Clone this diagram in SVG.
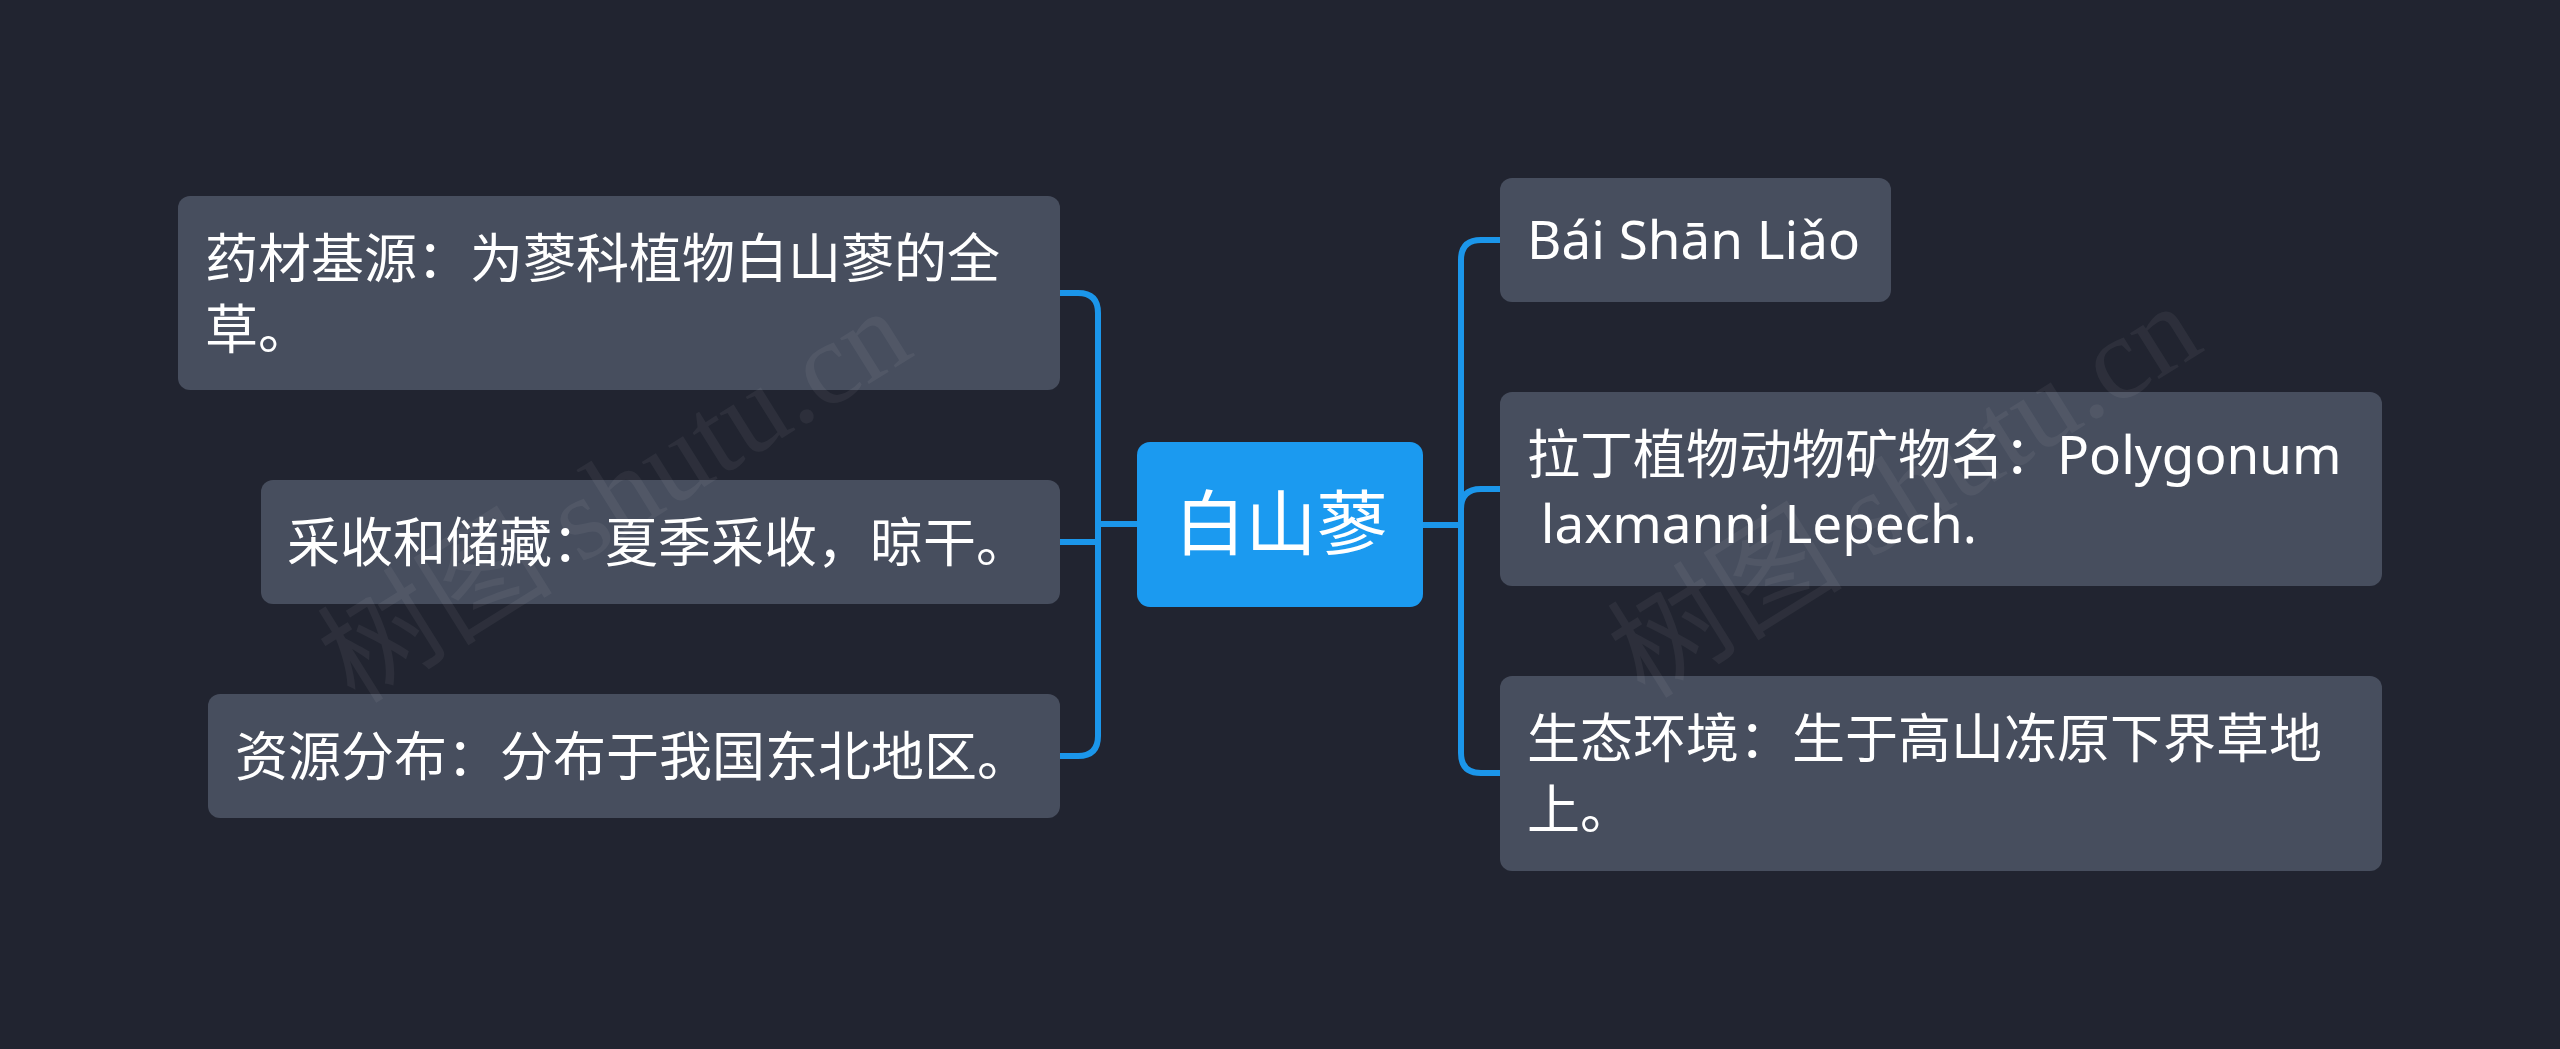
<svg xmlns="http://www.w3.org/2000/svg" width="2560" height="1049" viewBox="0 0 2560 1049">
  <style>
    .bg { fill: #212430; }
    .node rect { fill: #474e5e; }
    .root rect { fill: #1b9af0; }
    .t { fill: #ffffff; font-family: "Noto Sans", "Noto Sans CJK SC", sans-serif; font-size: 53px; }
    .rt { fill: #ffffff; font-family: "Noto Sans CJK SC", sans-serif; font-size: 71px; text-anchor: middle; }
    .conn path { fill: none; stroke: #1b96ea; stroke-width: 6; stroke-linecap: butt; stroke-linejoin: round; }
    .wm { fill: #ffffff; opacity: 0.05; font-family: "Liberation Serif", "Noto Sans CJK SC", serif; font-size: 118px; }
  </style>
  <rect class="bg" x="0" y="0" width="2560" height="1049"/>

  <g class="conn" id="connectors">
    <path d="M1137 524 H1098"/>
    <path d="M1098 524 V313 Q1098 293 1078 293 H1060"/>
    <path d="M1098 524 V542 H1060"/>
    <path d="M1098 524 V736 Q1098 756 1078 756 H1060"/>
    <path d="M1423 525 H1461"/>
    <path d="M1461 525 V260 Q1461 240 1481 240 H1500"/>
    <path d="M1461 525 V509 Q1461 489 1481 489 H1500"/>
    <path d="M1461 525 V753 Q1461 773 1481 773 H1500"/>
  </g>

  <g id="root" class="root">
    <rect x="1137" y="442" width="286" height="165" rx="13"/>
    <text class="rt" x="1281" y="549">白山蓼</text>
  </g>

  <g id="left1" class="node">
    <rect x="178" y="196" width="882" height="194" rx="12"/>
    <text class="t" x="205" y="278">药材基源：为蓼科植物白山蓼的全</text>
    <text class="t" x="205" y="349">草。</text>
  </g>
  <g id="left2" class="node">
    <rect x="261" y="480" width="799" height="124" rx="12"/>
    <text class="t" x="287" y="562">采收和储藏：夏季采收，晾干。</text>
  </g>
  <g id="left3" class="node">
    <rect x="208" y="694" width="852" height="124" rx="12"/>
    <text class="t" x="235" y="776">资源分布：分布于我国东北地区。</text>
  </g>

  <g id="right1" class="node">
    <rect x="1500" y="178" width="391" height="124" rx="12"/>
    <text class="t" x="1527" y="259">Bái Shān Liǎo</text>
  </g>
  <g id="right2" class="node">
    <rect x="1500" y="392" width="882" height="194" rx="12"/>
    <text class="t" x="1527" y="474">拉丁植物动物矿物名：Polygonum</text>
    <text class="t" x="1527" y="543" xml:space="preserve"> laxmanni Lepech.</text>
  </g>
  <g id="right3" class="node">
    <rect x="1500" y="676" width="882" height="195" rx="12"/>
    <text class="t" x="1527" y="758">生态环境：生于高山冻原下界草地</text>
    <text class="t" x="1527" y="829">上。</text>
  </g>

  <g id="watermark">
    <text class="wm" transform="translate(355 705) rotate(-32)">树图 shutu.cn</text>
    <text class="wm" transform="translate(1645 700) rotate(-32)">树图 shutu.cn</text>
  </g>
</svg>
